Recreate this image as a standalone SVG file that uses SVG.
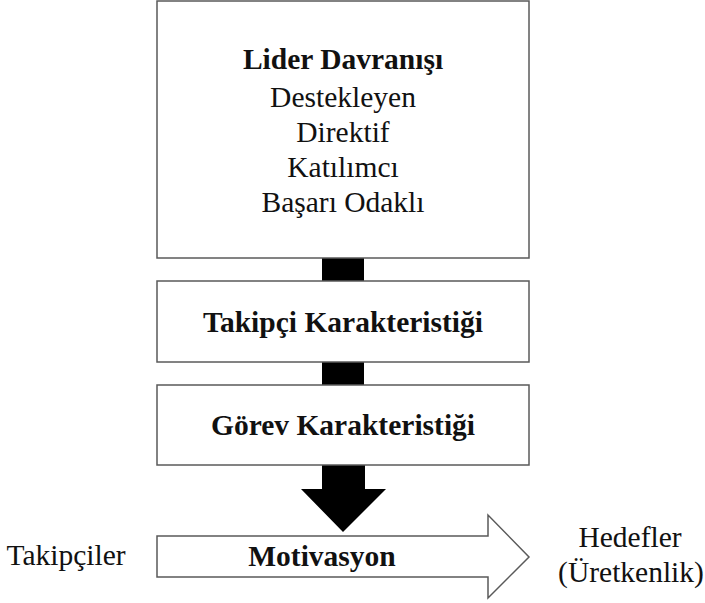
<svg xmlns="http://www.w3.org/2000/svg" width="705" height="603" viewBox="0 0 705 603">
  <style>
    .box { fill: #ffffff; stroke: #5a5a5a; stroke-width: 1.5; }
    .bar { fill: #000000; }
    .t { font-family: "Liberation Serif", "Times New Roman", serif; font-size: 29.5px; fill: #111111; text-anchor: middle; }
    .b { font-weight: bold; }
  </style>
  <rect width="705" height="603" fill="#ffffff"/>

  <!-- connectors between the stacked boxes -->
  <g id="connectors">
    <rect class="bar" x="322" y="258" width="42" height="23"/>
    <rect class="bar" x="322" y="362" width="42" height="23"/>
    <path class="bar" d="M322,465 H365 V489 H386 L343,532 L301,489 H322 Z"/>
  </g>

  <g id="lider">
    <rect class="box" x="157" y="1" width="372" height="257"/>
    <text class="t b" x="343" y="69">Lider Davranışı</text>
    <text class="t" x="343" y="107">Destekleyen</text>
    <text class="t" x="343" y="142">Direktif</text>
    <text class="t" x="343" y="177">Katılımcı</text>
    <text class="t" x="343" y="212">Başarı Odaklı</text>
  </g>

  <g id="takipci">
    <rect class="box" x="157" y="281" width="372" height="81"/>
    <text class="t b" x="343" y="332">Takipçi Karakteristiği</text>
  </g>

  <g id="gorev">
    <rect class="box" x="157" y="385" width="372" height="80"/>
    <text class="t b" x="343" y="435">Görev Karakteristiği</text>
  </g>

  <g id="motivasyon">
    <path class="box" d="M157,536 H488 V515 L529,557 L488,598 V577 H157 Z"/>
    <text class="t b" x="322" y="566">Motivasyon</text>
  </g>

  <g id="takipciler">
    <text class="t" x="66" y="565">Takipçiler</text>
  </g>

  <g id="hedefler">
    <text class="t" x="630" y="547">Hedefler</text>
    <text class="t" x="631" y="582">(Üretkenlik)</text>
  </g>
</svg>
